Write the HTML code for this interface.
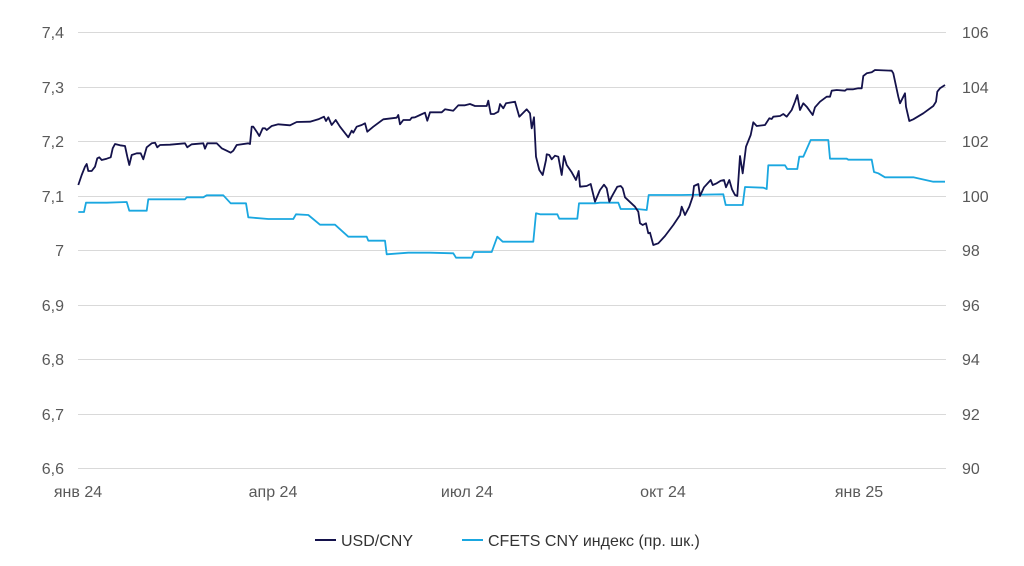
<!DOCTYPE html>
<html><head><meta charset="utf-8"><style>
html,body{margin:0;padding:0;background:#fff;}
svg{display:block;font-family:"Liberation Sans",sans-serif;}
</style></head><body>
<svg id="c" width="1024" height="566" xmlns="http://www.w3.org/2000/svg">
<g stroke="#d9d9d9" stroke-width="1">
<line x1="78" x2="946" y1="32.5" y2="32.5"/><line x1="78" x2="946" y1="87.5" y2="87.5"/>
<line x1="78" x2="946" y1="141.5" y2="141.5"/><line x1="78" x2="946" y1="196.5" y2="196.5"/>
<line x1="78" x2="946" y1="250.5" y2="250.5"/><line x1="78" x2="946" y1="305.5" y2="305.5"/>
<line x1="78" x2="946" y1="359.5" y2="359.5"/><line x1="78" x2="946" y1="414.5" y2="414.5"/>
<line x1="78" x2="946" y1="468.5" y2="468.5"/>
</g>
<g fill="#595959" font-size="16" text-anchor="end">
<text x="64" y="38">7,4</text><text x="64" y="93">7,3</text><text x="64" y="147">7,2</text>
<text x="64" y="202">7,1</text><text x="64" y="256">7</text><text x="64" y="311">6,9</text>
<text x="64" y="365">6,8</text><text x="64" y="420">6,7</text><text x="64" y="474">6,6</text>
</g>
<g fill="#595959" font-size="16" text-anchor="start">
<text x="962" y="38">106</text><text x="962" y="93">104</text><text x="962" y="147">102</text>
<text x="962" y="202">100</text><text x="962" y="256">98</text><text x="962" y="311">96</text>
<text x="962" y="365">94</text><text x="962" y="420">92</text><text x="962" y="474">90</text>
</g>
<g fill="#595959" font-size="16" text-anchor="middle">
<text x="78" y="497">янв 24</text><text x="273" y="497">апр 24</text><text x="467" y="497">июл 24</text>
<text x="663" y="497">окт 24</text><text x="859" y="497">янв 25</text>
</g>
<polyline id="blue" fill="none" stroke="#1aa7e0" stroke-width="1.8" stroke-linejoin="round"/>
<polyline id="dark" fill="none" stroke="#14124b" stroke-width="1.8" stroke-linejoin="round"/>
<line x1="315" x2="336" y1="540" y2="540" stroke="#14124b" stroke-width="2"/>
<text x="341" y="546" font-size="16" fill="#333">USD/CNY</text>
<line x1="462" x2="483" y1="540" y2="540" stroke="#1aa7e0" stroke-width="2"/>
<text x="488" y="546" font-size="16" fill="#333">CFETS CNY индекс (пр. шк.)</text>
</svg>
<script>
function conv(arr,ox,lo,hi){var o=[];for(var i=0;i<arr.length;i+=2){var x=ox+arr[i]/3,y=60+arr[i+1]/3;if(x>=lo&&x<=hi)o.push(x.toFixed(1)+","+y.toFixed(1));}return o;}
var d1=[25,375,35,345,45,320,50,312,55,333,65,333,75,320,82,295,88,292,95,300,110,296,122,292,128,265,135,252,150,256,165,258,172,290,178,315,185,285,200,280,212,280,220,298,230,262,245,250,255,248,262,262,270,255,300,254,345,250,352,262,365,253,400,250,405,266,412,250,440,250,455,265,470,272,482,278,490,272,500,255,535,250,540,252,545,200,550,200,560,215,568,228,578,205,585,205,590,210,605,198,625,193,660,196,680,186,720,185,745,178,762,170,768,183,775,172,785,195,797,180,810,200,835,232,845,212,850,218,860,200,875,195,885,190,892,215,910,200,940,178,980,173,985,165,990,193,1000,180,1020,180,1025,173,1035,172,1050,165,1065,158,1072,182,1080,157,1105,157,1115,157,1125,148,1150,152,1165,136,1185,136,1200,132,1215,138,1250,138,1255,122,1262,162,1272,162,1285,155,1290,133];
var d2=[0,132,10,145,18,130,45,125,58,170,80,148,90,160,95,205,102,172,108,290,118,330,128,345,138,300,140,283,148,285,155,298,165,287,175,290,185,345,192,288,200,315,215,337,228,360,236,333,240,380,260,378,272,372,285,425,300,390,312,374,320,385,328,425,335,410,352,380,362,378,368,385,375,412,392,428,405,440,415,455,420,490,428,495,438,490,445,520,450,518,460,555,475,550,495,528,520,495,540,465,545,440,555,465,568,440,578,410,582,378,595,372,600,408,612,382,632,360,638,375,650,370,662,362,672,360,678,382,688,360,696,388,705,405,712,408,720,288,728,340,738,260,752,225,760,187,770,198,795,195,808,175,815,177,820,170,840,168,850,162,860,170,875,150,885,125,892,105,900,150,910,130,920,140,938,165,945,142,960,125,980,110,990,110,995,92,1010,90,1035,92,1040,88,1060,88,1075,85,1085,85,1090,48,1100,40,1115,37,1125,30,1175,32,1180,40,1195,110,1200,130,1215,100,1218,140,1228,183,1240,178,1270,160,1300,138,1308,125,1312,95,1320,85,1335,75];
var b1=[25,456,42,456,48,428,110,428,170,426,178,452,230,452,235,418,345,418,350,412,400,412,410,406,460,406,482,430,528,430,535,472,595,477,670,477,678,463,715,465,750,494,795,494,835,530,890,530,895,542,945,542,950,583,1015,578,1080,578,1150,580,1158,593,1205,593,1212,576,1265,576,1282,530,1298,530,1305,543,1380,543];
var b2=[0,543,8,545,100,545,108,460,120,463,172,463,178,476,232,476,237,430,285,430,300,428,355,428,362,447,410,447,440,450,446,405,545,405,670,403,677,435,728,435,735,381,790,383,800,387,805,316,855,316,862,327,892,327,898,290,910,290,932,240,985,240,990,296,1040,296,1045,299,1115,299,1122,336,1135,340,1155,352,1240,352,1300,365,1335,365];
document.getElementById('dark').setAttribute('points',conv(d1,70,0,500).concat(conv(d2,500,500,2000)).join(' '));
document.getElementById('blue').setAttribute('points',conv(b1,70,0,500).concat(conv(b2,500,500.1,2000)).join(' '));
</script>
</body></html>
